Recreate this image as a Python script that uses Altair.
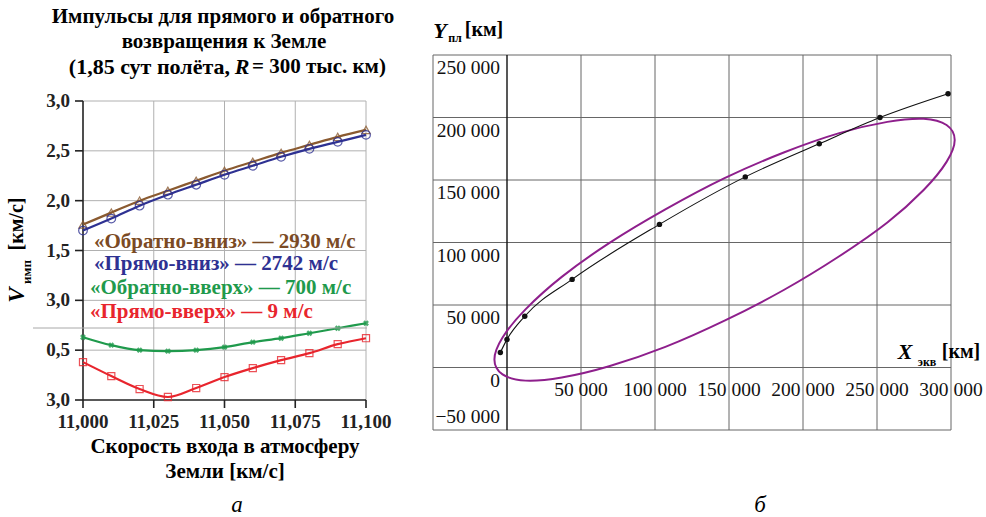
import altair as alt
import pandas as pd

SERIF = "Liberation Serif, Times New Roman, serif"

# ---------------- panel "а" data ----------------
speed = [11000, 11010, 11020, 11030, 11040, 11050, 11060, 11070, 11080, 11090, 11100]
obr_vniz = [1.76, 1.88, 2.00, 2.10, 2.20, 2.30, 2.39, 2.48, 2.56, 2.64, 2.71]   # km/s
pr_vniz = [1.70, 1.82, 1.95, 2.06, 2.16, 2.26, 2.35, 2.44, 2.52, 2.59, 2.66]    # km/s
# lower (broken-axis) part, read in axis-division units
obr_vverh = [1.26, 1.10, 1.00, 0.98, 1.00, 1.06, 1.16, 1.24, 1.34, 1.44, 1.54]
pr_vverh = [0.76, 0.48, 0.22, 0.06, 0.24, 0.46, 0.64, 0.80, 0.94, 1.12, 1.24]
a_ytick_pos = [0, 1, 2, 3, 4, 5, 6]
a_ytick_labels = ["3,0", "0,5", "3,0", "1,5", "2,0", "2,5", "3,0"]
a_xticks = [11000, 11025, 11050, 11075, 11100]
a_xtick_labels = ["11,000", "11,025", "11,050", "11,075", "11,100"]
legend_labels = ["«Обратно-вниз» — 2930 м/с", "«Прямо-вниз» — 2742 м/с",
                 "«Обратно-вверх» — 700 м/с", "«Прямо-вверх» — 9 м/с"]

# ---------------- panel "б" data ----------------
traj_x = [-4500, 0, 12000, 44000, 103000, 161000, 211000, 252000, 298000]
traj_y = [12000, 22500, 41000, 70500, 114500, 152500, 179000, 200000, 219000]
ell_x = [302500, 297000, 281500, 257000, 224500, 187000, 147000, 107000, 69000,
         37000, 12500, -3000, -8500, -3000, 12500, 37000, 69000, 107000, 147000,
         187000, 224500, 257000, 281500, 297000]
ell_y = [182000, 194000, 199000, 196500, 187500, 172000, 151500, 126500, 99500,
         72500, 46500, 24000, 6500, -5500, -10500, -8000, 1000, 16500, 37500,
         62000, 89000, 116000, 142000, 164500]
b_yticks = [-50000, 0, 50000, 100000, 150000, 200000, 250000]
b_ytick_labels = ["−50 000", "0", "50 000", "100 000", "150 000", "200 000", "250 000"]
b_xticks = [50000, 100000, 150000, 200000, 250000, 300000]
b_xtick_labels = ["50 000", "100 000", "150 000", "200 000", "250 000", "300 000"]

BROWN = "#8a5a30"
BROWN_T = "#7b4a24"
BLUE = "#2e3192"
GREEN = "#1f9a4c"
RED = "#e8252d"
PURPLE = "#8e1f8c"

xa_scale = alt.Scale(domain=[11000, 11100], range=[83, 366], nice=False, zero=False)
ya_scale = alt.Scale(domain=[0, 6], range=[400, 101], nice=False, zero=False)
xb_scale = alt.Scale(domain=[-50000, 300000], range=[433, 951], nice=False, zero=False)
yb_scale = alt.Scale(domain=[-50000, 250000], range=[430, 55], nice=False, zero=False)


def XA(f):
    return alt.X(f, type="quantitative", scale=xa_scale, axis=None)


def YA(f):
    return alt.Y(f, type="quantitative", scale=ya_scale, axis=None)


def XB(f):
    return alt.X(f, type="quantitative", scale=xb_scale, axis=None)


def YB(f):
    return alt.Y(f, type="quantitative", scale=yb_scale, axis=None)


def txt(text, x, y, size=21, color="black", weight="bold", style="normal",
        align="center", angle=0):
    return alt.Chart(alt.Data(values=[{}])).mark_text(
        text=text, font=SERIF, fontSize=size, fontWeight=weight, fontStyle=style,
        color=color, align=align, baseline="middle", angle=angle
    ).encode(x=alt.value(x), y=alt.value(y))


# ---------------- panel "а" ----------------
a_hgrid = pd.DataFrame({"t": a_ytick_pos[1:], "x0": 11000, "x1": 11100})
a_vgrid = pd.DataFrame({"s": a_xticks[1:], "t0": 0, "t1": 6})
a_yt = pd.DataFrame({"t": a_ytick_pos, "lab": a_ytick_labels, "x0": 11000})
a_xt = pd.DataFrame({"s": a_xticks, "lab": a_xtick_labels, "t0": 0})

layers_a = [
    alt.Chart(a_hgrid).mark_rule(color="#b0b0b0", strokeWidth=1).encode(
        x=XA("x0"), x2="x1", y=YA("t")),
    alt.Chart(a_vgrid).mark_rule(color="#b0b0b0", strokeWidth=1).encode(
        x=XA("s"), y=YA("t0"), y2="t1"),
    alt.Chart(a_yt).mark_rule(color="#222", strokeWidth=1.6, x2Offset=-8).encode(
        x=XA("x0"), x2="x0", y=YA("t")),
    alt.Chart(a_xt).mark_rule(color="#222", strokeWidth=1.6, y2Offset=8).encode(
        x=XA("s"), y=YA("t0"), y2="t0"),
    alt.Chart(a_yt).mark_rule(color="#222", strokeWidth=1.6).encode(
        x=XA("x0"), y=YA("min(t)"), y2=alt.Y2("max(t)")),
    alt.Chart(a_xt).mark_rule(color="#222", strokeWidth=1.6).encode(
        x=XA("min(s)"), x2=alt.X2("max(s)"), y=YA("t0")),
    alt.Chart(a_yt).mark_text(font=SERIF, fontSize=19, fontWeight="bold", align="right",
                              baseline="middle", dx=-13, color="#222").encode(
        x=XA("x0"), y=YA("t"), text="lab:N"),
    alt.Chart(a_xt).mark_text(font=SERIF, fontSize=19, fontWeight="bold", align="center",
                              baseline="middle", dy=22, color="#222").encode(
        x=XA("s"), y=YA("t0"), text="lab:N"),
]


def series_layers(values, color, shape, filled, to_axis, angle=0, size=60):
    df = pd.DataFrame({"speed": speed, "v": values})
    base = alt.Chart(df)
    if to_axis:
        base = base.transform_calculate(t="3 + (datum.v - 1.5) * 2")
    else:
        base = base.transform_calculate(t="datum.v")
    line = base.mark_line(color=color, strokeWidth=2.2, interpolate="monotone").encode(
        x=XA("speed"), y=YA("t"))
    pts = base.mark_point(shape=shape, filled=filled, color=color, size=size,
                          strokeWidth=1.2, opacity=0.8, angle=angle).encode(
        x=XA("speed"), y=YA("t"))
    return [line, pts]


layers_a += series_layers(obr_vniz, BROWN, "triangle-up", False, True, size=70)
layers_a += series_layers(pr_vniz, BLUE, "circle", False, True, size=75)
layers_a += series_layers(obr_vverh, GREEN, "cross", True, False, angle=45, size=35)
layers_a += series_layers(pr_vverh, RED, "square", False, False, size=50)

panel_a = alt.layer(*layers_a)

# ---------------- panel "б" ----------------
b_hgrid = pd.DataFrame({"y": b_yticks, "x0": -50000, "x1": 300000})
b_vgrid = pd.DataFrame({"x": [-50000] + b_xticks, "y0": -50000, "y1": 250000})
b_yt = pd.DataFrame({"y": b_yticks, "lab": b_ytick_labels, "x0": 0})
b_xt = pd.DataFrame({"x": b_xticks, "lab": b_xtick_labels, "y0": 0})
traj = pd.DataFrame({"x": traj_x, "y": traj_y, "i": list(range(len(traj_x)))})
ell = pd.DataFrame({"x": ell_x, "y": ell_y, "i": list(range(len(ell_x)))})

layers_b = [
    alt.Chart(b_hgrid).mark_rule(color="#666", strokeWidth=1).encode(
        x=XB("x0"), x2="x1", y=YB("y")),
    alt.Chart(b_vgrid).mark_rule(color="#666", strokeWidth=1).encode(
        x=XB("x"), y=YB("y0"), y2="y1"),
    alt.Chart(b_yt).mark_rule(color="#111", strokeWidth=1.4).encode(
        x=XB("x0"), y=YB("min(y)"), y2=alt.Y2("max(y)")),
    alt.Chart(b_yt).transform_filter("datum.y > -50000").mark_text(
        font=SERIF, fontSize=19.5, align="right", baseline="middle", dx=-7, dy=13,
        color="#111").encode(x=XB("x0"), y=YB("y"), text="lab:N"),
    alt.Chart(b_yt).transform_filter("datum.y == -50000").mark_text(
        font=SERIF, fontSize=19.5, align="right", baseline="middle", dx=-7, dy=-13,
        color="#111").encode(x=XB("x0"), y=YB("y"), text="lab:N"),
    alt.Chart(b_xt).mark_text(font=SERIF, fontSize=19.5, align="center", baseline="middle",
                              dy=22, color="#111").encode(
        x=XB("x"), y=YB("y0"), text="lab:N"),
    alt.Chart(ell).mark_line(color=PURPLE, strokeWidth=2, interpolate="cardinal-closed").encode(
        x=XB("x"), y=YB("y"), order="i:Q"),
    alt.Chart(traj).mark_line(color="#111", strokeWidth=1.1, interpolate="monotone").encode(
        x=XB("x"), y=YB("y"), order="i:Q"),
    alt.Chart(traj).mark_point(filled=True, color="#111", size=30, opacity=1).encode(
        x=XB("x"), y=YB("y")),
]
panel_b = alt.layer(*layers_b)

# ---------------- texts ----------------
notes = [
    txt("Импульсы для прямого и обратного", 223, 17),
    txt("возвращения к Земле", 224, 42),
    txt("(1,85 сут полёта,", 230, 67, size=22, align="right"),
    txt("R", 242, 67, size=22, style="italic"),
    txt("= 300 тыс. км)", 252, 67, align="left"),
    txt(legend_labels[0], 94, 242, color=BROWN_T, align="left"),
    txt(legend_labels[1], 94, 264, color=BLUE, align="left"),
    txt(legend_labels[2], 90, 288, color=GREEN, align="left"),
    txt(legend_labels[3], 90, 312, color=RED, align="left"),
    txt("V", 17, 295, size=23, style="italic", angle=270),
    txt("имп", 27, 272, size=13, angle=270),
    txt("[км/с]", 17, 224, size=20, angle=270),
    txt("Скорость входа в атмосферу", 225, 447),
    txt("Земли [км/с]", 225, 472),
    txt("а", 237, 505, size=23, weight="normal", style="italic"),
    txt("б", 760, 505, size=23, weight="normal", style="italic"),
    txt("Y", 440, 31, size=22, style="italic"),
    txt("пл", 455, 38, size=12),
    txt("[км]", 484, 30, size=20),
    txt("X", 905, 352, size=22, style="italic"),
    txt("экв", 927, 362, size=12),
    txt("[км]", 961, 352, size=20),
    alt.Chart(alt.Data(values=[{}])).mark_rule(color="#a8a8a8", strokeWidth=1).encode(
        x=alt.value(33), x2=alt.value(367), y=alt.value(328)),
]

chart = alt.layer(panel_a, panel_b, *notes).resolve_scale(
    x="independent", y="independent"
).properties(
    width=986, height=517, padding=0, background="white",
    autosize=alt.AutoSizeParams(type="none"),
).configure_view(stroke=None)

chart.save("out.html", embed_options={"renderer": "svg", "actions": False})
